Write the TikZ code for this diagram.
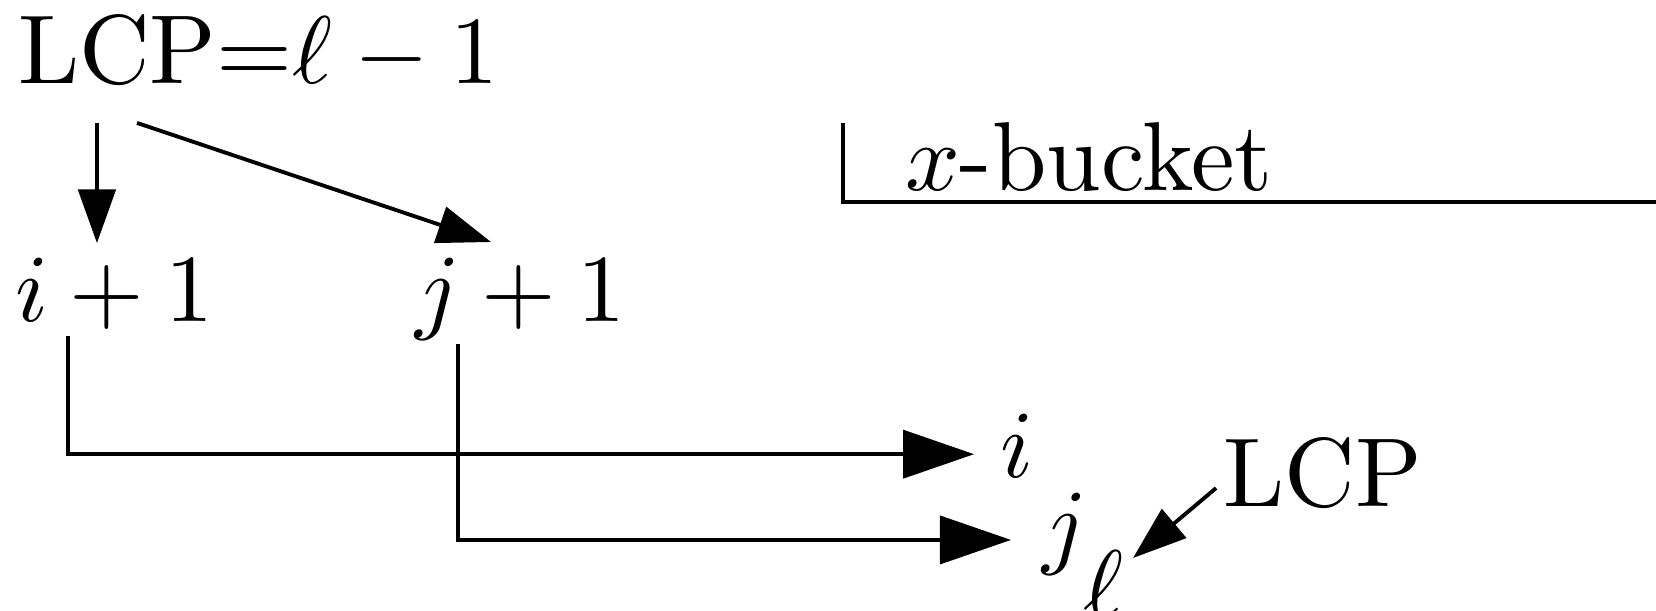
\documentclass[tikz,border=0pt]{standalone}
\usepackage{amsmath,amssymb}
\usepackage{tikz}
\usetikzlibrary{arrows.meta,positioning,calc}
\tikzset{
  termlabel/.style={anchor=base west,inner sep=0pt,outer sep=0pt,
    font=\fontsize{10.2pt}{12pt}\selectfont},
  smallarrow/.style={-{Triangle[length=5.6pt,width=3.9pt]}},
  bigarrow/.style={-{Triangle[length=7.4pt,width=5pt]}}
}
\begin{document}
\begin{tikzpicture}[x=1cm,y=1cm]
  \useasboundingbox (0,0) rectangle (6.064,-2.234);
  % top: the pair with LCP l-1 and its two successors
  \node[termlabel] (lcptop) at (0.066,-0.304) {LCP=$\ell-1$};
  \node[termlabel] (ione) at (0.055,-1.178) {$i+1$};
  \node[termlabel] (jone) at (1.520,-1.178) {$j+1$};
  \draw[smallarrow] ([shift={(0.289,-0.146)}]lcptop.base west) --
    ([shift={(0.300,0.288)}]ione.base west);
  \draw[smallarrow] ([shift={(0.436,-0.146)}]lcptop.base west) --
    ([shift={(0.278,0.292)}]jone.base west);

  % the x-bucket
  \node[termlabel] (bucket) at (3.314,-0.696) {$x$-bucket};
  \coordinate (bucketend) at (6.2,-0.740);
  \draw ([shift={(-0.227,0.246)}]bucket.base west) |- (bucketend);

  % bottom: where i and j land, and the LCP between them
  \node[termlabel] (iout) at (3.662,-1.747) {$i$};
  \node[termlabel] (jout) at (3.816,-2.036) {$j$};
  \node[termlabel] (ellout) at (3.966,-2.262) {$\ell$};
  \node[termlabel] (lcpbot) at (4.479,-1.853) {LCP};
  \draw[bigarrow] ([shift={(0.194,-0.052)}]ione.base west) |-
    ([shift={(-0.095,0.084)}]iout.base west);
  \draw[bigarrow] ([shift={(0.157,-0.082)}]jone.base west) |-
    ([shift={(-0.114,0.059)}]jout.base west);
  \draw[smallarrow] ([shift={(-0.026,0.066)}]lcpbot.base west) --
    ([shift={(0.183,0.219)}]ellout.base west);
\end{tikzpicture}
\end{document}
